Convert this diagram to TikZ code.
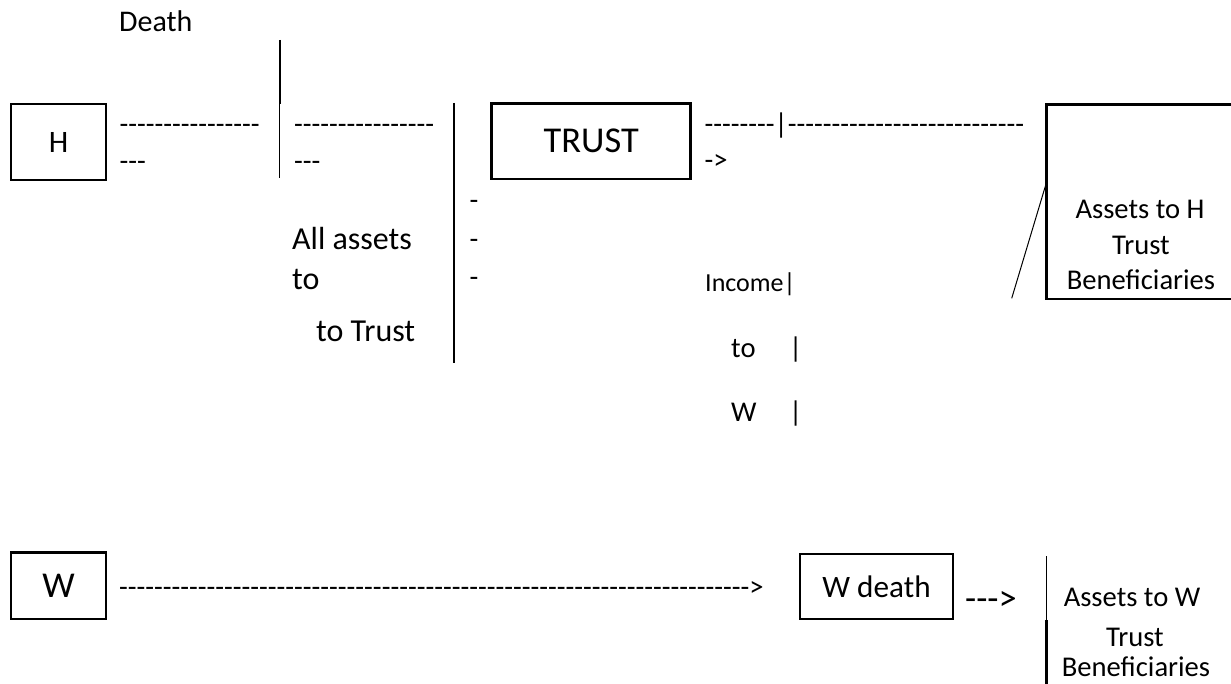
\documentclass[tikz,border=0pt]{standalone}
\usepackage{fontspec}
\setmainfont{Carlito}[Ligatures=TeXOff]
\newcommand\fntbase{\fontsize{28.6}{34}\selectfont}
\newcommand\fntsmall{\fontsize{26}{31}\selectfont}
\newcommand\fntdeath{\fontsize{30}{36}\selectfont}
\newcommand\fntassets{\fontsize{32}{38}\selectfont}
\newcommand\fntmid{\fontsize{31.2}{37}\selectfont}
\newcommand\fntlarge{\fontsize{36.4}{43}\selectfont}
\tikzset{
  txt/.style={inner sep=0pt, font=\fntbase, anchor=base west},
  ctxt/.style={inner sep=0pt, font=\fntbase, anchor=base},
  box/.style={draw, line width=2.5pt, inner sep=0pt},
  rule/.style={line width=1.5pt},
}
\begin{document}
\begin{tikzpicture}[x=1pt,y=-1pt]
\useasboundingbox (0,0) rectangle (1231,684);
\fill[white] (0,0) rectangle (1231,684);

% top-left: H and death marker
\node[txt, font=\fntdeath] (death) at (119,31.7) {Death};
\coordinate (v1top) at (279.5,40);
\coordinate (v1mid) at (279.5,104);
\coordinate (v1bot) at (279.5,178);
\draw[line width=2pt] (v1top) -- (v1mid);
\draw[rule] (v1mid) -- (v1bot);

\node[box, minimum width=95pt, minimum height=76pt, font=\fntmid] (H) at (58.5,142) {H};

\node[txt] (d1a) at (119.5,133.5) {----------------};
\node[txt] (d1b) at (119.5,170.5) {---};
\node[txt] (d2a) at (294,133.5) {----------------};
\node[txt] (d2b) at (294,170.5) {---};

\coordinate (v2top) at (454,103);
\coordinate (v2bot) at (454,363);
\draw[rule] (v2top) -- (v2bot);

\node[txt] (m1) at (469.5,209.5) {-};
\node[txt] (m2) at (469.5,248.5) {-};
\node[txt] (m3) at (469.5,286.5) {-};

\node[txt, font=\fntassets] (all) at (292,250) {All assets};
\node[txt, font=\fntassets] (to1) at (292,290) {to};
\node[txt, font=\fntassets] (toTrust) at (316,341.7) {to Trust};

% trust
\node[box, minimum width=199pt, minimum height=75.7pt, font=\fntlarge] (trust) at (591.2,141.2) {TRUST};
\node[txt] (tr1) at (704.5,133.2) {--------|---------------------------};
\node[txt] (tr2) at (704.5,169.5) {->};

\node[txt, font=\fntsmall] (inc) at (705,291.7) {Income|};
\node[txt] (incto) at (731,357) {\makebox[58pt][l]{to}|};
\node[txt] (incW) at (731,421.7) {\makebox[58pt][l]{W}|};

% assets to H box (clipped at right)
\draw[box] (1231,104.3) -| (1046.7,299) -- (1231,299);
\coordinate (ah) at (1046.7,181.7);
\coordinate (diagEnd) at (1011.7,298.3);
\draw[line width=1pt] (ah) -- (diagEnd);
\node[ctxt] (ah1) at (1140,219) {Assets to H};
\node[ctxt] (ah2) at (1141,255) {Trust};
\node[ctxt] (ah3) at (1141,290) {Beneficiaries};

% bottom row
\node[box, minimum width=95pt, minimum height=66.7pt, font=\fntlarge] (W) at (58.5,585.7) {W};
\node[txt] (wrow) at (119,596) {------------------------------------------------------------------------>};
\node[box, minimum width=153pt, minimum height=65pt, font=\fntmid] (wdeath) at (876.5,586.5) {W death};
\node[txt, font=\fntlarge] (arr) at (965,610) {--->};

\coordinate (awtop) at (1046.7,556);
\coordinate (awmid) at (1046.7,620);
\coordinate (awbot) at (1046.7,684);
\draw[rule] (awtop) -- (awmid);
\draw[line width=2.5pt] (awmid) -- (awbot);
\node[ctxt] (aw1) at (1132,606) {Assets to W};
\node[ctxt] (aw2) at (1135,646) {Trust};
\node[ctxt] (aw3) at (1136,676) {Beneficiaries};
\end{tikzpicture}
\end{document}
